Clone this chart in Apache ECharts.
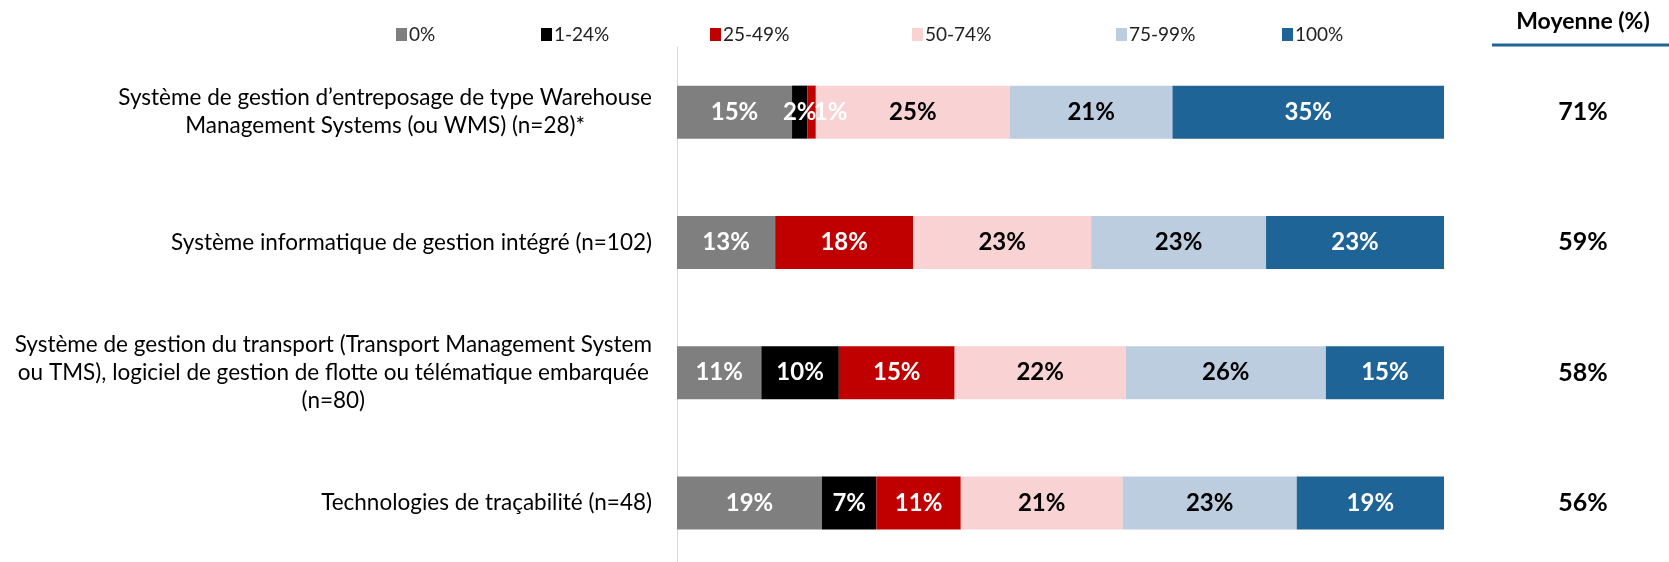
<!DOCTYPE html>
<html>
<head>
<meta charset="utf-8">
<script src="https://cdn.jsdelivr.net/npm/echarts@6/dist/echarts.min.js"></script>
<style>
  html, body { margin: 0; padding: 0; background: #fff; }
  #chart { width: 1669px; height: 562px; }
</style>
</head>
<body>
<div id="chart"></div>
<script>
// catégories (de haut en bas)
const categories = [
  'Système de gestion d\u2019entreposage de type Warehouse\nManagement Systems (ou WMS) (n=28)*',
  'Système informatique de gestion intégré (n=102)',
  'Système de gestion du transport (Transport Management System\nou TMS), logiciel de gestion de flotte ou télématique embarquée\n(n=80)',
  'Technologies de traçabilité (n=48)'
]
const seriesNames = ['0%', '1-24%', '25-49%', '50-74%', '75-99%', '100%']
// parts en %, estimées d'après la largeur des segments
const part0 = [15.0, 12.8, 11.0, 18.9]
const part1_24 = [2.0, 0, 10.1, 7.1]
const part25_49 = [1.1, 18.0, 15.1, 11.0]
const part50_74 = [25.3, 23.2, 22.3, 21.1]
const part75_99 = [21.2, 22.8, 26.1, 22.7]
const part100 = [35.4, 23.2, 15.4, 19.2]
const moyenne = [71, 59, 58, 56]

const seriesData = [part0, part1_24, part25_49, part50_74, part75_99, part100]
const colors = ['#7F7F7F', '#000000', '#C00000', '#F9D2D3', '#BCCDDF', '#1F6496']
const labelColors = ['#fff', '#fff', '#fff', '#000', '#000', '#fff']
const legendLeft = [391, 536, 705, 907, 1111, 1277]

const FONT = 'Lato, "Open Sans", sans-serif'
let chart = echarts.init(document.getElementById('chart'))

// le petit "1%" de la 1re barre est décalé à droite comme dans Excel
function barData(i) {
  return seriesData[i].map((v, j) => {
    if (i === 2 && j === 0) return { value: v, label: { offset: [19, 0] } }
    return v
  })
}

chart.setOption({
  animation: false,
  textStyle: { fontFamily: FONT },
  color: colors,
  title: {
    text: 'Moyenne (%)',
    left: 1578,
    textAlign: 'center',
    top: 5,
    textStyle: { fontFamily: FONT, fontSize: 23, fontWeight: 'bold', color: '#000' }
  },
  legend: seriesNames.map((n, i) => ({
    data: [n],
    left: legendLeft[i],
    top: 20,
    itemWidth: 11,
    itemHeight: 13,
    itemGap: 0,
    icon: 'rect',
    selectedMode: false,
    textStyle: { fontFamily: FONT, fontSize: 19, color: '#222', padding: [0, 0, 0, -3] }
  })),
  graphic: [{
    type: 'line',
    shape: { x1: 1492, y1: 45, x2: 1669, y2: 45 },
    style: { stroke: '#1F6496', lineWidth: 3 }
  }],
  grid: { left: 677, right: 225, top: 47, height: 521, outerBoundsMode: 'none' },
  xAxis: {
    type: 'value',
    min: 0,
    max: 100,
    show: false
  },
  yAxis: [{
    type: 'category',
    inverse: true,
    data: categories,
    axisLine: { show: true, lineStyle: { color: '#D9D9D9', width: 1 } },
    axisTick: { show: false },
    axisLabel: {
      margin: 25,
      formatter: v => '{c|' + v + '}',
      rich: {
        c: { align: 'center', fontFamily: FONT, fontSize: 22.5, lineHeight: 28, color: '#000' }
      }
    }
  }, {
    type: 'category',
    inverse: true,
    position: 'right',
    data: moyenne,
    axisLine: { show: false },
    axisTick: { show: false },
    axisLabel: {
      margin: 139,
      align: 'center',
      formatter: v => v + '%',
      fontFamily: FONT,
      fontSize: 25,
      fontWeight: 'bold',
      color: '#000'
    }
  }],
  series: seriesNames.map((n, i) => ({
    name: n,
    type: 'bar',
    stack: 'total',
    barWidth: 53,
    data: barData(i),
    itemStyle: { color: colors[i] },
    label: {
      show: true,
      position: 'inside',
      formatter: p => p.value > 0 ? Math.round(p.value) + '%' : '',
      fontFamily: FONT,
      fontSize: 24,
      fontWeight: 'bold',
      color: labelColors[i]
    }
  }))
})
</script>
</body>
</html>
